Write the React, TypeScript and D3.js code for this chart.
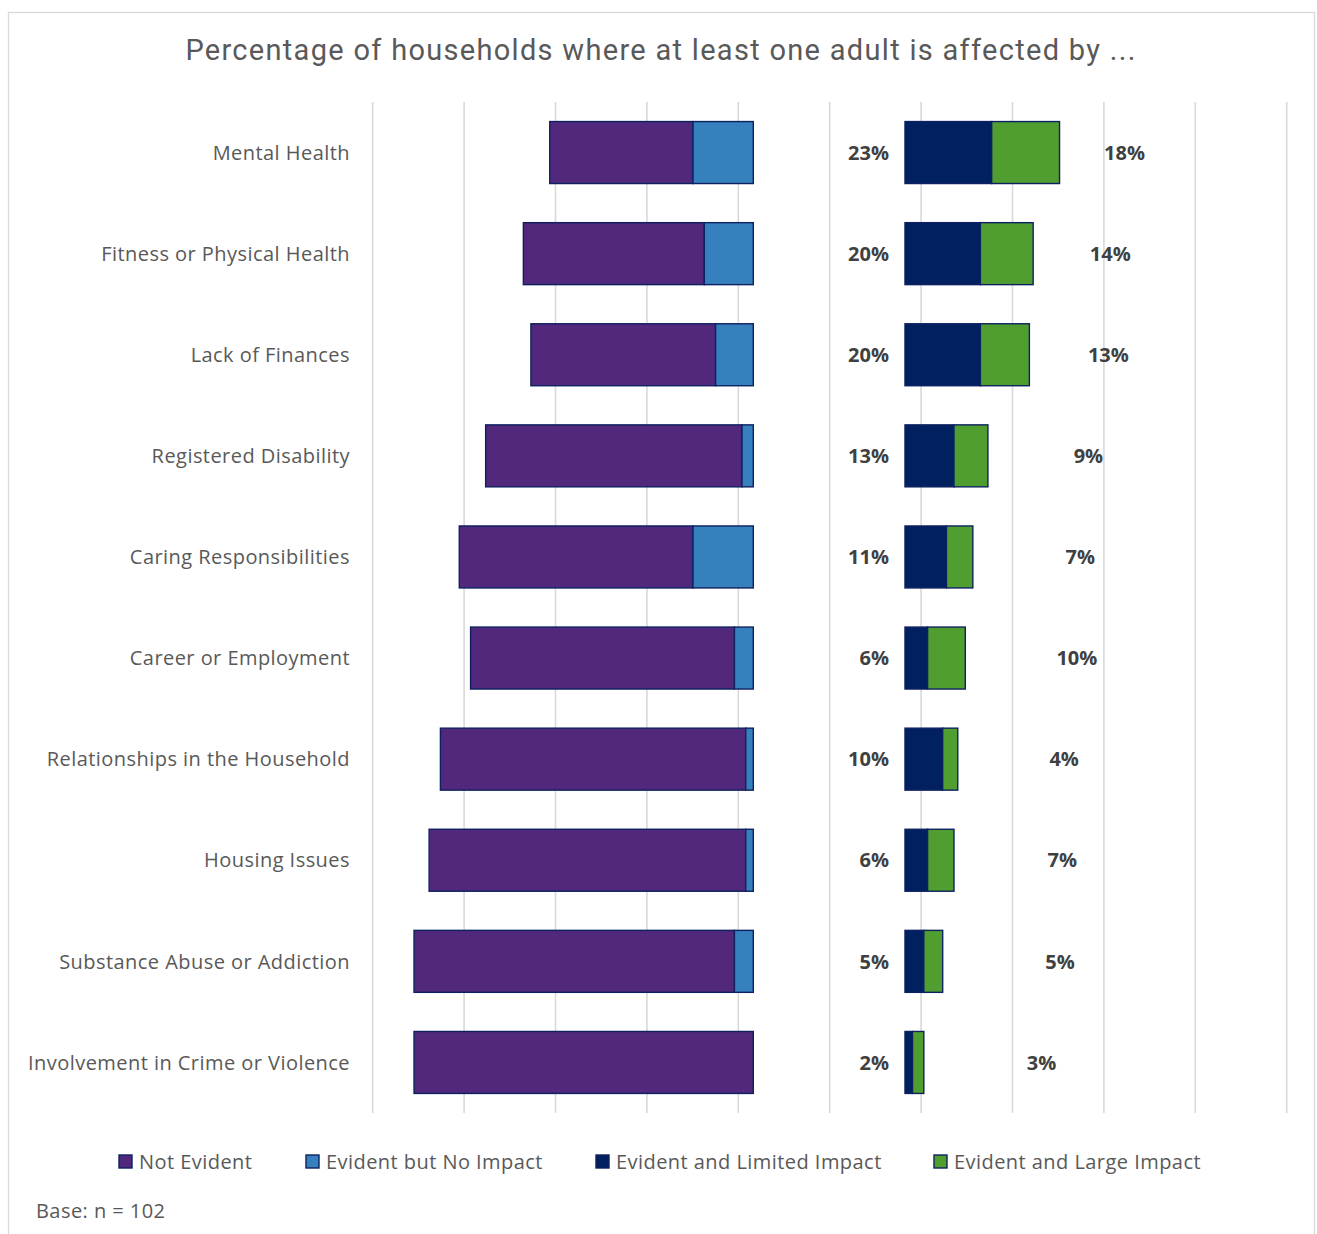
import React from "react";
import * as d3 from "d3";

const N = 102;
const categories = [
  "Mental Health",
  "Fitness or Physical Health",
  "Lack of Finances",
  "Registered Disability",
  "Caring Responsibilities",
  "Career or Employment",
  "Relationships in the Household",
  "Housing Issues",
  "Substance Abuse or Addiction",
  "Involvement in Crime or Violence",
];
// household counts (of n = 102)
const notEvident = [38, 48, 49, 68, 62, 70, 81, 84, 85, 90];
const evidentNoImpact = [16, 13, 10, 3, 16, 5, 2, 2, 5, 0];
const limitedImpact = [23, 20, 20, 13, 11, 6, 10, 6, 5, 2];
const largeImpact = [18, 14, 13, 9, 7, 10, 4, 7, 5, 3];
// centre of the "large impact" label, in % measured from the start of the right-hand stack
const largeLabelAt = [57.1, 53.4, 52.9, 47.7, 45.6, 44.7, 41.4, 40.9, 40.3, 35.5];

const seriesNames = [
  "Not Evident",
  "Evident but No Impact",
  "Evident and Limited Impact",
  "Evident and Large Impact",
];
const seriesColors = ["#51287B", "#3680BD", "#002060", "#509E2F"];
const title = "Percentage of households where at least one adult is affected by ...";
const baseNote = "Base: n = 102";

const W = 1317;
const H = 1234;
const PX = 3.845; // px per percentage point
const ANCHOR = 753.3; // where the left stack ends
const GAP = 39.45; // % gap between the stacks

const LABEL_FONT = "'Open Sans', 'Noto Sans', sans-serif";

export default function App() {
  const pct = (c: number) => (c / N) * 100;
  const x = d3
    .scaleLinear()
    .domain([-100, 150])
    .range([ANCHOR - 100 * PX, ANCHOR + 150 * PX]);
  const grid = d3.scaleLinear().domain([0, 10]).range([372.7, 1286.7]);
  const y = d3
    .scaleBand<string>()
    .domain(categories)
    .range([102, 1113])
    .paddingInner(0.387)
    .paddingOuter(0.1935);

  const rows = categories.map((c, i) => {
    const ne = pct(notEvident[i]);
    const nb = pct(evidentNoImpact[i]);
    const li = pct(limitedImpact[i]);
    const la = pct(largeImpact[i]);
    return {
      c,
      i,
      segs: [
        { s: 0, x0: -(ne + nb), x1: -nb },
        { s: 1, x0: -nb, x1: 0 },
        { s: 2, x0: GAP, x1: GAP + li },
        { s: 3, x0: GAP + li, x1: GAP + li + la },
      ],
      li,
      la,
    };
  });

  const legendX = [119, 306, 596, 934];

  return (
    <svg
      width={W}
      height={H}
      style={{ position: "absolute", left: 0, top: 0, background: "#fff" }}
    >
      <rect x={0} y={0} width={W} height={H} fill="#fff" />
      <rect
        x={8.5}
        y={12.5}
        width={1306}
        height={1240}
        fill="none"
        stroke="#d9d9d9"
        strokeWidth={1.3}
      />
      <text
        x={661}
        y={60}
        textAnchor="middle"
        fontFamily="Roboto, sans-serif"
        fontSize={29}
        letterSpacing={1.3}
        fill="#595959"
      >
        {title}
      </text>
      {d3.range(0, 11).map((t) => (
        <line
          key={t}
          x1={grid(t)}
          x2={grid(t)}
          y1={102}
          y2={1113}
          stroke="#d9d9d9"
          strokeWidth={1.6}
        />
      ))}
      {rows.map((r) => {
        const y0 = y(r.c)!;
        const bw = y.bandwidth();
        const cy = y0 + bw / 2;
        return (
          <g key={r.c}>
            {r.segs
              .filter((s) => s.x1 - s.x0 > 0)
              .map((s) => (
                <rect
                  key={s.s}
                  x={x(s.x0)}
                  y={y0}
                  width={x(s.x1) - x(s.x0)}
                  height={bw}
                  fill={seriesColors[s.s]}
                  stroke="#0d2160"
                  strokeWidth={1.4}
                />
              ))}
            <text
              x={350}
              y={cy}
              dy="0.36em"
              textAnchor="end"
              fontFamily={LABEL_FONT}
              fontSize={20}
              letterSpacing={0.45}
              fill="#595959"
            >
              {r.c}
            </text>
            <text
              x={x(GAP) - 16}
              y={cy}
              dy="0.36em"
              textAnchor="end"
              fontFamily={LABEL_FONT}
              fontSize={20}
              fontWeight="bold"
              fill="#404040"
            >
              {`${Math.round(r.li)}%`}
            </text>
            <text
              x={x(GAP + largeLabelAt[r.i])}
              y={cy}
              dy="0.36em"
              textAnchor="middle"
              fontFamily={LABEL_FONT}
              fontSize={20}
              fontWeight="bold"
              fill="#404040"
            >
              {`${Math.round(r.la)}%`}
            </text>
          </g>
        );
      })}
      {seriesNames.map((n, i) => (
        <g key={n}>
          <rect
            x={legendX[i]}
            y={1155}
            width={13}
            height={13}
            fill={seriesColors[i]}
            stroke="#0d2160"
            strokeWidth={1.4}
          />
          <text
            x={legendX[i] + 20}
            y={1161.5}
            dy="0.36em"
            fontFamily={LABEL_FONT}
            fontSize={20}
            letterSpacing={0.45}
            fill="#595959"
          >
            {n}
          </text>
        </g>
      ))}
      <text
        x={36}
        y={1211}
        dy="0.36em"
        fontFamily={LABEL_FONT}
        fontSize={20}
        letterSpacing={0.45}
        fill="#595959"
      >
        {baseNote}
      </text>
    </svg>
  );
}
